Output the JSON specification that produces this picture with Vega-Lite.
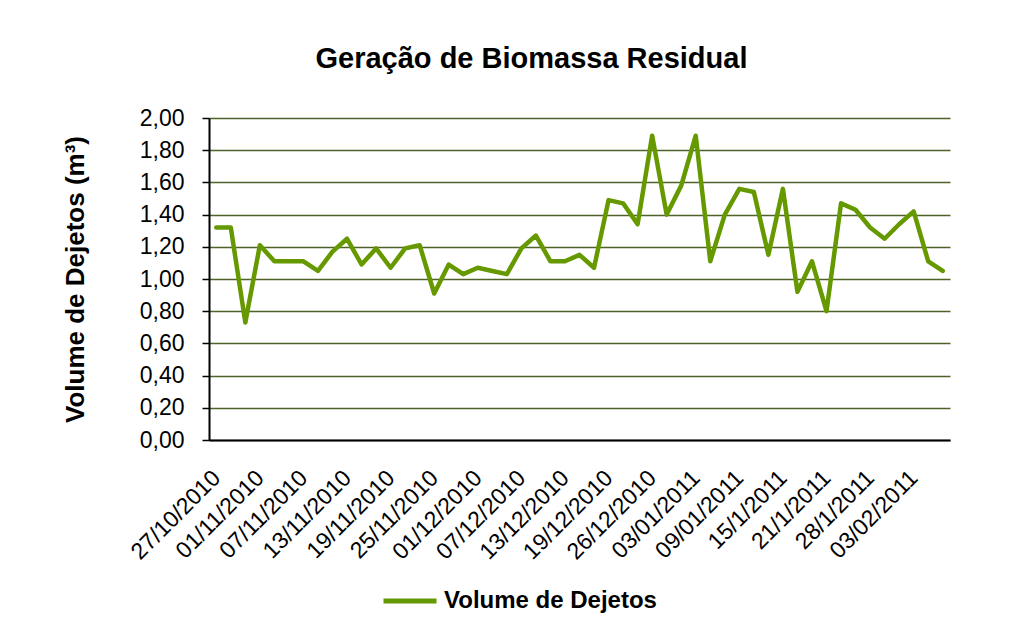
{
  "$schema": "https://vega.github.io/schema/vega-lite/v6.json",
  "width": 741,
  "height": 322,
  "autosize": {"type": "none"},
  "padding": {"left": 209, "top": 118, "right": 83, "bottom": 204},
  "background": "white",
  "title": {
    "text": "Geração de Biomassa Residual",
    "font": "Liberation Sans",
    "fontSize": 29,
    "fontWeight": "bold",
    "color": "black",
    "anchor": "middle",
    "baseline": "alphabetic",
    "dx": -48,
    "offset": 10
  },
  "config": {
    "view": {"stroke": null},
    "axis": {"labelFont": "Liberation Sans", "titleFont": "Liberation Sans", "labelColor": "black", "titleColor": "black"},
    "legend": {"labelFont": "Liberation Sans"}
  },
  "data": {
    "values": [
      {"data": "27/10/2010", "volume": 1.32, "serie": "Volume de Dejetos"},
      {"data": "29/10/2010", "volume": 1.32, "serie": "Volume de Dejetos"},
      {"data": "30/10/2010", "volume": 0.73, "serie": "Volume de Dejetos"},
      {"data": "01/11/2010", "volume": 1.21, "serie": "Volume de Dejetos"},
      {"data": "03/11/2010", "volume": 1.11, "serie": "Volume de Dejetos"},
      {"data": "05/11/2010", "volume": 1.11, "serie": "Volume de Dejetos"},
      {"data": "07/11/2010", "volume": 1.11, "serie": "Volume de Dejetos"},
      {"data": "09/11/2010", "volume": 1.05, "serie": "Volume de Dejetos"},
      {"data": "11/11/2010", "volume": 1.17, "serie": "Volume de Dejetos"},
      {"data": "13/11/2010", "volume": 1.25, "serie": "Volume de Dejetos"},
      {"data": "15/11/2010", "volume": 1.09, "serie": "Volume de Dejetos"},
      {"data": "17/11/2010", "volume": 1.19, "serie": "Volume de Dejetos"},
      {"data": "19/11/2010", "volume": 1.07, "serie": "Volume de Dejetos"},
      {"data": "21/11/2010", "volume": 1.19, "serie": "Volume de Dejetos"},
      {"data": "23/11/2010", "volume": 1.21, "serie": "Volume de Dejetos"},
      {"data": "25/11/2010", "volume": 0.91, "serie": "Volume de Dejetos"},
      {"data": "27/11/2010", "volume": 1.09, "serie": "Volume de Dejetos"},
      {"data": "29/11/2010", "volume": 1.03, "serie": "Volume de Dejetos"},
      {"data": "01/12/2010", "volume": 1.07, "serie": "Volume de Dejetos"},
      {"data": "03/12/2010", "volume": 1.05, "serie": "Volume de Dejetos"},
      {"data": "05/12/2010", "volume": 1.03, "serie": "Volume de Dejetos"},
      {"data": "07/12/2010", "volume": 1.19, "serie": "Volume de Dejetos"},
      {"data": "09/12/2010", "volume": 1.27, "serie": "Volume de Dejetos"},
      {"data": "11/12/2010", "volume": 1.11, "serie": "Volume de Dejetos"},
      {"data": "13/12/2010", "volume": 1.11, "serie": "Volume de Dejetos"},
      {"data": "15/12/2010", "volume": 1.15, "serie": "Volume de Dejetos"},
      {"data": "17/12/2010", "volume": 1.07, "serie": "Volume de Dejetos"},
      {"data": "19/12/2010", "volume": 1.49, "serie": "Volume de Dejetos"},
      {"data": "21/12/2010", "volume": 1.47, "serie": "Volume de Dejetos"},
      {"data": "23/12/2010", "volume": 1.34, "serie": "Volume de Dejetos"},
      {"data": "26/12/2010", "volume": 1.89, "serie": "Volume de Dejetos"},
      {"data": "28/12/2010", "volume": 1.40, "serie": "Volume de Dejetos"},
      {"data": "30/12/2010", "volume": 1.58, "serie": "Volume de Dejetos"},
      {"data": "03/01/2011", "volume": 1.89, "serie": "Volume de Dejetos"},
      {"data": "05/01/2011", "volume": 1.11, "serie": "Volume de Dejetos"},
      {"data": "07/01/2011", "volume": 1.40, "serie": "Volume de Dejetos"},
      {"data": "09/01/2011", "volume": 1.56, "serie": "Volume de Dejetos"},
      {"data": "11/01/2011", "volume": 1.54, "serie": "Volume de Dejetos"},
      {"data": "13/01/2011", "volume": 1.15, "serie": "Volume de Dejetos"},
      {"data": "15/1/2011", "volume": 1.56, "serie": "Volume de Dejetos"},
      {"data": "17/1/2011", "volume": 0.92, "serie": "Volume de Dejetos"},
      {"data": "19/1/2011", "volume": 1.11, "serie": "Volume de Dejetos"},
      {"data": "21/1/2011", "volume": 0.80, "serie": "Volume de Dejetos"},
      {"data": "24/1/2011", "volume": 1.47, "serie": "Volume de Dejetos"},
      {"data": "26/1/2011", "volume": 1.43, "serie": "Volume de Dejetos"},
      {"data": "28/1/2011", "volume": 1.32, "serie": "Volume de Dejetos"},
      {"data": "31/1/2011", "volume": 1.25, "serie": "Volume de Dejetos"},
      {"data": "01/02/2011", "volume": 1.34, "serie": "Volume de Dejetos"},
      {"data": "03/02/2011", "volume": 1.42, "serie": "Volume de Dejetos"},
      {"data": "05/02/2011", "volume": 1.11, "serie": "Volume de Dejetos"},
      {"data": "07/02/2011", "volume": 1.05, "serie": "Volume de Dejetos"}
    ]
  },
  "mark": {"type": "line", "strokeWidth": 4.5, "strokeCap": "round", "strokeJoin": "round"},
  "encoding": {
    "x": {
      "field": "data",
      "type": "ordinal",
      "sort": null,
      "scale": {"type": "point", "padding": 0.5},
      "axis": {
        "title": null,
        "values": ["27/10/2010", "01/11/2010", "07/11/2010", "13/11/2010", "19/11/2010", "25/11/2010", "01/12/2010", "07/12/2010", "13/12/2010", "19/12/2010", "26/12/2010", "03/01/2011", "09/01/2011", "15/1/2011", "21/1/2011", "28/1/2011", "03/02/2011"],
        "labelAngle": -45,
        "labelAlign": "right",
        "labelBaseline": "middle",
        "labelFontSize": 23,
        "labelPadding": 34,
        "ticks": false,
        "tickSize": 0,
        "domainColor": "black",
        "domainWidth": 2,
        "grid": false,
        "labelOverlap": false
      }
    },
    "y": {
      "field": "volume",
      "type": "quantitative",
      "scale": {"domain": [0, 2], "nice": false, "zero": true},
      "axis": {
        "values": [0, 0.2, 0.4, 0.6, 0.8, 1.0, 1.2, 1.4, 1.6, 1.8, 2.0],
        "labelExpr": "replace(format(datum.value, '.2f'), '.', ',')",
        "labelFontSize": 23,
        "labelPadding": 18,
        "tickSize": 7,
        "tickColor": "black",
        "tickWidth": 1.5,
        "domainColor": "black",
        "domainWidth": 2,
        "grid": true,
        "gridColor": "#4F6228",
        "gridWidth": 1.3,
        "title": "Volume de Dejetos (m³)",
        "titleFontSize": 26,
        "titleFontWeight": "bold",
        "titleAngle": -90,
        "titleX": -126,
        "titleY": 161,
        "titleAlign": "center",
        "titleBaseline": "alphabetic"
      }
    },
    "color": {
      "field": "serie",
      "type": "nominal",
      "scale": {"range": ["#669900"]},
      "legend": {
        "title": null,
        "orient": "none",
        "legendX": 172,
        "legendY": 454,
        "symbolType": "stroke",
        "symbolSize": 2809,
        "symbolStrokeWidth": 5,
        "labelFontSize": 24,
        "labelFontWeight": "bold",
        "labelColor": "black",
        "labelOffset": 5,
        "labelLimit": 0,
        "padding": 0
      }
    }
  }
}
